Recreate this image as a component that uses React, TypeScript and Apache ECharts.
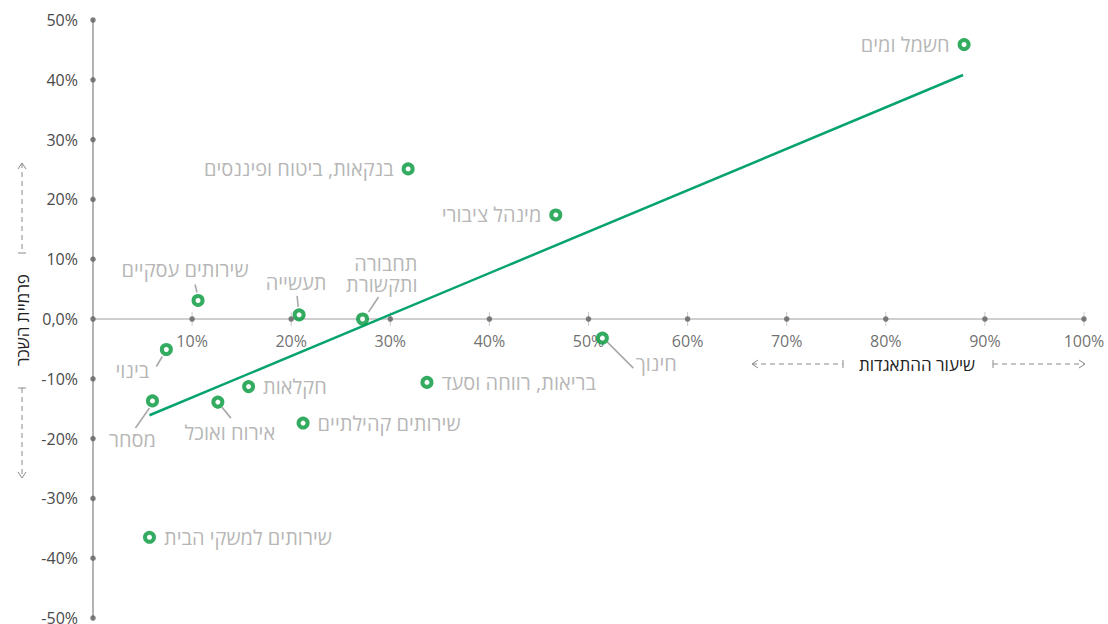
import React, { useEffect, useRef } from "react";
import * as echarts from "echarts";

// ---- data ----
const sectors = [
  "חשמל ומים",
  "בנקאות, ביטוח ופיננסים",
  "מינהל ציבורי",
  "שירותים עסקיים",
  "תעשייה",
  "תחבורה\nותקשורת",
  "חינוך",
  "בינוי",
  "בריאות, רווחה וסעד",
  "חקלאות",
  "מסחר",
  "אירוח ואוכל",
  "שירותים קהילתיים",
  "שירותים למשקי הבית",
];
const unionRate = [87.9, 31.8, 46.7, 10.6, 20.8, 27.2, 51.4, 7.4, 33.7, 15.7, 6.0, 12.6, 21.2, 5.7];
const wagePremium = [45.9, 25.1, 17.4, 3.1, 0.7, 0.0, -3.2, -5.1, -10.6, -11.3, -13.7, -13.9, -17.4, -36.5];
const trendX = [5.7, 87.8];
const trendY = [-16.1, 40.8];
const xTicks = [10, 20, 30, 40, 50, 60, 70, 80, 90, 100];
const yTicks = [-50, -40, -30, -20, -10, 0, 10, 20, 30, 40, 50];
const xTitle = "שיעור ההתאגדות";
const yTitle = "פרמיית השכר";

// ---- label layout (styles, not data) ----
type Place = { pos: "left" | "right" | "inside"; off?: [number, number]; align?: string; leader?: [number, number, number, number] };
const placement: Place[] = [
  { pos: "left" },
  { pos: "left" },
  { pos: "left" },
  { pos: "inside", off: [-13, -31], leader: [-3, -16, -1, -8] },
  { pos: "inside", off: [-3, -32], leader: [-2, -19, -1, -8] },
  { pos: "inside", off: [55, -45], align: "right", leader: [16, -22, 6, -7] },
  { pos: "inside", off: [54, 25], leader: [5, 4, 31, 30] },
  { pos: "inside", off: [-34, 21], leader: [-4, 7, -10, 17] },
  { pos: "right" },
  { pos: "right" },
  { pos: "inside", off: [-20, 39], leader: [-3, 7, -17, 27] },
  { pos: "inside", off: [12, 30], leader: [4, 5, 13, 16] },
  { pos: "right" },
  { pos: "right" },
];

const FONT = "'Open Sans', 'DejaVu Sans', sans-serif";
const GREEN = "#009639";
const TREND = "#06a46c";
const LABEL_GRAY = "#a3a3a3";
const TICK_TEXT = "#4a4a4a";

export default function App() {
  const ref = useRef<HTMLDivElement>(null);
  useEffect(() => {
    document.body.style.margin = "0";
    if (!ref.current) return;
    const chart = echarts.init(ref.current, undefined, { renderer: "svg" });

    const points = sectors.map((name, i) => {
      const p = placement[i];
      const label: any = {
        show: true,
        formatter: name,
        color: LABEL_GRAY,
        fontSize: 20,
        fontFamily: FONT,
        lineHeight: 21,
      };
      if (p.pos === "inside") {
        label.position = "inside";
        label.offset = p.off;
        if (p.align) label.align = p.align;
      } else {
        label.position = p.pos;
        label.distance = 8;
      }
      return { name, value: [unionRate[i], wagePremium[i]], label };
    });

    const leaderData: any[] = [];
    sectors.forEach((_, i) => {
      if (placement[i].leader) leaderData.push([unionRate[i], wagePremium[i], i]);
    });

    const dashed = { stroke: "#8a8a8a", lineWidth: 1, lineDash: [5, 4] };
    const solid = { stroke: "#8a8a8a", lineWidth: 1 };

    const option: any = {
      animation: false,
      grid: { left: 93, right: 24, top: 20, bottom: 6, containLabel: false, outerBoundsMode: "none" },
      xAxis: {
        type: "value",
        min: 0,
        max: 100,
        interval: 10,
        axisLine: { onZero: true, lineStyle: { color: "#cfcfcf", width: 2 } },
        axisTick: { show: false },
        splitLine: { show: false },
        axisLabel: { show: false },
      },
      yAxis: {
        type: "value",
        min: -50,
        max: 50,
        interval: 10,
        axisLine: { show: true, onZero: false, lineStyle: { color: "#9a9a9a", width: 1.5 } },
        axisTick: { show: false },
        splitLine: { show: false },
        axisLabel: {
          color: TICK_TEXT,
          fontSize: 16,
          fontFamily: FONT,
          margin: 15,
          formatter: (v: number) => (v === 0 ? "0,0%" : v + "%"),
        },
      },
      series: [
        {
          type: "scatter",
          silent: true,
          symbol: "rect",
          symbolSize: [1, 14],
          itemStyle: { color: "#bdbdbd" },
          data: xTicks.map((t) => [t, 0]),
          z: 1,
        },
        {
          type: "scatter",
          silent: true,
          symbol: "circle",
          symbolSize: 5.5,
          itemStyle: { color: "#606060" },
          data: yTicks.map((t) => [0, t]),
          z: 2,
        },
        {
          type: "scatter",
          silent: true,
          symbol: "circle",
          symbolSize: 5.5,
          itemStyle: { color: "#606060" },
          data: xTicks.map((t) => [t, 0]),
          label: {
            show: true,
            position: "bottom",
            distance: 11,
            formatter: (p: any) => p.value[0] + "%",
            color: TICK_TEXT,
            fontSize: 16,
            fontFamily: FONT,
          },
          z: 2,
        },
        {
          type: "line",
          data: trendX.map((x, i) => [x, trendY[i]]),
          symbol: "none",
          lineStyle: { color: TREND, width: 2.5 },
          z: 3,
        },
        {
          type: "custom",
          silent: true,
          data: leaderData,
          z: 3,
          renderItem: (params: any, api: any) => {
            const c = api.coord([api.value(0), api.value(1)]);
            const lead = placement[api.value(2)].leader!;
            return {
              type: "line",
              shape: { x1: c[0] + lead[0], y1: c[1] + lead[1], x2: c[0] + lead[2], y2: c[1] + lead[3] },
              style: { stroke: "#a9a9a9", lineWidth: 1.6 },
            };
          },
        },
        {
          type: "scatter",
          symbol: "circle",
          symbolSize: 9,
          itemStyle: { color: "#ffffff", borderColor: GREEN, borderWidth: 4 },
          data: points,
          z: 5,
        },
      ],
      graphic: [
        {
          type: "text",
          x: 22,
          y: 320,
          rotation: Math.PI / 2,
          style: {
            text: yTitle,
            fill: "#222",
            font: `17px ${FONT}`,
            align: "center",
            verticalAlign: "middle",
            textAlign: "center",
            textVerticalAlign: "middle",
          },
        },
        { type: "line", shape: { x1: 22, y1: 163, x2: 22, y2: 253 }, style: dashed },
        { type: "polyline", shape: { points: [[18, 169], [22, 163], [26, 169]] }, style: { ...solid, fill: null } },
        { type: "line", shape: { x1: 18, y1: 253, x2: 26, y2: 253 }, style: solid },
        { type: "line", shape: { x1: 18, y1: 388, x2: 26, y2: 388 }, style: solid },
        { type: "line", shape: { x1: 22, y1: 388, x2: 22, y2: 478 }, style: dashed },
        { type: "polyline", shape: { points: [[18, 472], [22, 478], [26, 472]] }, style: { ...solid, fill: null } },
        {
          type: "text",
          x: 917,
          y: 364,
          style: {
            text: xTitle,
            fill: "#222",
            font: `17px ${FONT}`,
            align: "center",
            verticalAlign: "middle",
            textAlign: "center",
            textVerticalAlign: "middle",
          },
        },
        { type: "line", shape: { x1: 752, y1: 364, x2: 843, y2: 364 }, style: dashed },
        { type: "polyline", shape: { points: [[758, 360], [752, 364], [758, 368]] }, style: { ...solid, fill: null } },
        { type: "line", shape: { x1: 843, y1: 360, x2: 843, y2: 368 }, style: solid },
        { type: "line", shape: { x1: 993, y1: 360, x2: 993, y2: 368 }, style: solid },
        { type: "line", shape: { x1: 993, y1: 364, x2: 1085, y2: 364 }, style: dashed },
        { type: "polyline", shape: { points: [[1079, 360], [1085, 364], [1079, 368]] }, style: { ...solid, fill: null } },
      ],
    };
    chart.setOption(option);
    return () => chart.dispose();
  }, []);
  return <div ref={ref} style={{ width: 1108, height: 624, background: "#fff" }} />;
}
